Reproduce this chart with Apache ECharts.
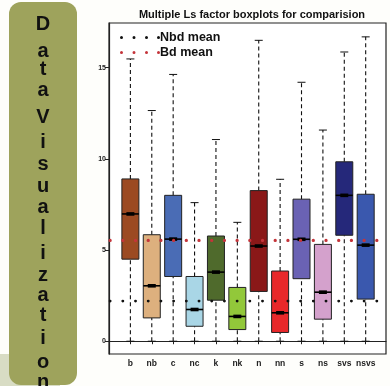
<!DOCTYPE html>
<html><head><meta charset="utf-8">
<script src="https://cdn.jsdelivr.net/npm/echarts@6/dist/echarts.min.js"></script>
<style>html,body{margin:0;padding:0;background:#fefefb;}#c{width:390px;height:386px;}</style>
</head><body><div id="c"></div>
<script>
var categories = ['b','nb','c','nc','k','nk','n','nn','s','ns','svs','nsvs'];
var whiskerLow = [0,0,0,0,0,0,0,0,0,0,0,0];
var q1 =        [4.5,1.28,3.55,0.82,2.25,0.64,2.73,0.48,3.43,1.21,5.81,2.31];
var medians =   [6.98,3.04,5.6,1.74,3.79,1.36,5.22,1.56,5.59,2.69,8.0,5.27];
var q3 =        [8.9,5.84,8.0,3.55,5.77,2.95,8.26,3.85,7.79,5.31,9.84,8.06];
var whiskerHigh=[15.48,12.65,14.63,7.6,11.06,6.52,16.5,8.88,14.2,11.58,15.86,16.69];
var boxColors = ['#9c4a22','#ddb07e','#4a6cb5','#a9d6e6','#4f6a2c','#92c83a','#8a1818','#e8282a','#6a62b4','#d4a1cc','#25287a','#3a58ae'];
var nbdMean = 2.2;
var bdMean = 5.53;
var yTicks = [0,5,10,15];
var panelLetters = 'DataVisualization'.split('');

var boxData = categories.map(function(c,i){return [i+1, whiskerLow[i], q1[i], medians[i], q3[i], whiskerHigh[i]];});
var letterY = [24,51,69,90,117,142,164,186,207,228,253,275,295,315,338,362,382];

var chart = echarts.init(document.getElementById('c'));
var graphics = [
  {type:'rect', shape:{x:0,y:354,width:60,height:40}, style:{fill:'#d8dcc4'}, z:-2},
  {type:'rect', shape:{x:9,y:2,width:68,height:383,r:12}, style:{fill:'#9ea35c'}, z:-1}
];
panelLetters.forEach(function(ch,i){
  graphics.push({type:'text', x:43, y:letterY[i], style:{text:ch, fill:'#111', font:'bold 20px "Liberation Sans", Arial, sans-serif', align:'center', verticalAlign:'middle'}});
});

function renderBox(params, api){
  var x = api.value(0);
  var lo = api.coord([x, api.value(1)]);
  var b1 = api.coord([x, api.value(2)]);
  var md = api.coord([x, api.value(3)]);
  var b3 = api.coord([x, api.value(4)]);
  var hi = api.coord([x, api.value(5)]);
  var hw = 8.5, cw = 4;
  var cx = lo[0];
  var dash = {stroke:'#111', lineWidth:1.1, lineDash:[4,3]};
  var solid = {stroke:'#111', lineWidth:1};
  return {type:'group', children:[
    {type:'line', shape:{x1:cx,y1:b3[1],x2:cx,y2:hi[1]}, style:dash},
    {type:'line', shape:{x1:cx,y1:lo[1],x2:cx,y2:b1[1]}, style:dash},
    {type:'line', shape:{x1:cx-cw,y1:hi[1],x2:cx+cw,y2:hi[1]}, style:solid},
    {type:'line', shape:{x1:cx-cw,y1:lo[1],x2:cx+cw,y2:lo[1]}, style:solid},
    {type:'rect', shape:{x:cx-hw,y:b3[1],width:2*hw,height:b1[1]-b3[1]}, style:{fill:boxColors[params.dataIndex], stroke:'#222', lineWidth:1}},
    {type:'line', shape:{x1:cx-hw,y1:md[1],x2:cx+hw,y2:md[1]}, style:{stroke:'#000', lineWidth:1.6}},
    {type:'rect', shape:{x:cx-4,y:md[1]-1.8,width:8,height:3.6}, style:{fill:'#000'}}
  ]};
}

var dotIcon = 'path://M0,1.5a1.5,1.5 0 1,0 3,0a1.5,1.5 0 1,0 -3,0 M12.5,1.5a1.5,1.5 0 1,0 3,0a1.5,1.5 0 1,0 -3,0 M25,1.5a1.5,1.5 0 1,0 3,0a1.5,1.5 0 1,0 -3,0 M37,1.5a1.5,1.5 0 1,0 3,0a1.5,1.5 0 1,0 -3,0';
var option = {
  animation:false,
  backgroundColor:'transparent',
  title:{text:'Multiple Ls factor boxplots for comparision', left:247, textAlign:'center', top:4,
    textStyle:{fontSize:11, fontWeight:'bold', color:'#111', fontFamily:'"Liberation Sans", Arial, sans-serif'}},
  legend:{orient:'vertical', left:115, top:26, itemGap:2, itemWidth:40, itemHeight:3,
    textStyle:{fontSize:12.5, fontWeight:'bold', color:'#111', fontFamily:'"Liberation Sans", Arial, sans-serif', padding:[0,0,0,-5]},
    data:[
      {name:'Nbd mean', icon:dotIcon, itemStyle:{color:'#111'}},
      {name:'Bd mean', icon:dotIcon, itemStyle:{color:'#c4343a'}}
    ]},
  grid:{left:109, right:4, top:23, bottom:32, show:true, borderColor:'#222', borderWidth:1.2, backgroundColor:'#ffffff'},
  graphic: graphics,
  xAxis:{type:'value', min:0, max:12.95, interval:1,
    axisLine:{show:true, lineStyle:{color:'#222', width:1.2}},
    axisTick:{show:true, length:3, lineStyle:{color:'#222'}, customValues:categories.map(function(c,i){return i+1;})},
    axisLabel:{customValues:categories.map(function(c,i){return i+1;}), formatter:function(v){return categories[Math.round(v)-1]||'';}, fontSize:8.5, fontWeight:'bold', color:'#222', margin:5, fontFamily:'"Liberation Sans", Arial, sans-serif'},
    splitLine:{show:false}},
  yAxis:{type:'value', min:-0.7, max:17.45,
    axisLine:{show:true, lineStyle:{color:'#222', width:1.2}},
    axisTick:{show:true, length:4, customValues:yTicks, lineStyle:{color:'#222'}},
    axisLabel:{customValues:yTicks, fontSize:7, fontWeight:'bold', color:'#222', margin:3, fontFamily:'"Liberation Sans", Arial, sans-serif'},
    splitLine:{show:false}},
  series:[
    {type:'custom', renderItem:renderBox, data:boxData, encode:{x:0,y:[1,2,3,4,5]}, z:2},
    {name:'Nbd mean', type:'line', data:[[0.05,nbdMean],[12.95,nbdMean]], symbol:'none', z:5,
      lineStyle:{color:'#111', width:2.8, type:[0.1,12.6], cap:'round'}},
    {name:'Bd mean', type:'line', data:[[0.05,bdMean],[12.95,bdMean]], symbol:'none', z:5,
      lineStyle:{color:'#c4343a', width:3.2, type:[0.1,12.6], cap:'round'}}
  ]
};
chart.setOption(option);
</script></body></html>
